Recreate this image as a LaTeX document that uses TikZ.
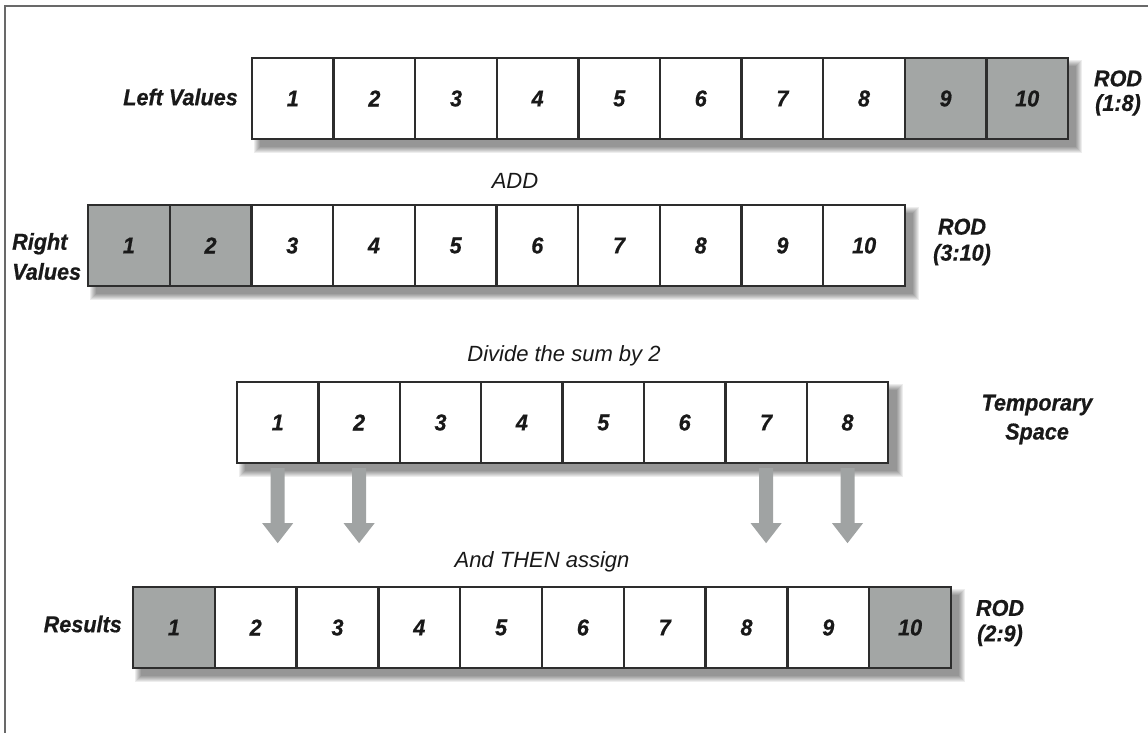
\documentclass[tikz,border=0pt]{standalone}
\usepackage{fontspec}
\setmainfont{Liberation Sans}
\newfontfamily\labfont[FakeStretch=0.94,FakeBold=0.6]{Liberation Sans}
\usetikzlibrary{calc}
\definecolor{cellgray}{RGB}{163,166,165}
\definecolor{arrowgray}{RGB}{160,163,163}
\definecolor{linegray}{RGB}{45,45,45}
\definecolor{txt}{RGB}{25,25,25}
\definecolor{framegray}{RGB}{105,105,105}
\newcommand\rowshadow[1]{%
  \foreach \r in {0,...,6}{%
    \fill[black, opacity=0.07] ($(#1.north west)+({8-\r},{-8+\r})$) rectangle ($(#1.south east)+({8+\r},{-8-\r})$);}}
\newcommand\downblock[1]{%
  \fill[arrowgray] ($(#1.south)+(-7,-4)$) -- ++(14,0) -- ++(0,-55) -- ++(8.5,0) -- ++(-15.5,-20) -- ++(-15.5,20) -- ++(8.5,0) -- cycle;}
\begin{document}
\begin{tikzpicture}[x=1pt,y=1pt,
  cell/.style={draw=linegray, line width=2.3pt, fill=white, minimum width=81.6pt, minimum height=81pt, inner sep=0pt, font=\labfont\bfseries\itshape\fontsize{23}{26}\selectfont, text=txt},
  graycell/.style={cell, fill=cellgray},
  rowspan/.style={minimum height=81pt, inner sep=0pt, anchor=north west},
  blabel/.style={font=\labfont\bfseries\itshape\fontsize{23}{#1}\selectfont, text=txt, inner sep=0pt, align=center},
  blabel/.default=26,
  ilabel/.style={font=\itshape\fontsize{22}{26}\selectfont, text=txt, inner sep=0pt}
]
\useasboundingbox (0,0) rectangle (1148,-733);
\fill[white] (0,0) rectangle (1148,-733);
\draw[framegray, line width=1.6pt] (5,-745) -- (5,-6) -- (1160,-6);

% row frames (for shadows)
\node[rowspan, minimum width=816pt] (R1) at (252,-58) {};
\node[rowspan, minimum width=817pt] (R2) at (88,-205) {};
\node[rowspan, minimum width=651.2pt] (R3) at (237,-382) {};
\node[rowspan, minimum width=818pt] (R4) at (133,-587) {};
\rowshadow{R1}
\rowshadow{R2}
\rowshadow{R3}
\rowshadow{R4}

% Left values
\foreach \i in {1,...,8} \node[cell] (L\i) at ({252+81.6*\i-40.8},-98.5) {\i};
\foreach \i in {9,10} \node[graycell] (L\i) at ({252+81.6*\i-40.8},-98.5) {\i};
% Right values
\foreach \i in {1,2} \node[graycell, minimum width=81.7pt] (V\i) at ({88+81.7*\i-40.85},-245.5) {\i};
\foreach \i in {3,...,10} \node[cell, minimum width=81.7pt] (V\i) at ({88+81.7*\i-40.85},-245.5) {\i};
% Temporary space
\foreach \i in {1,...,8} \node[cell, minimum width=81.4pt] (T\i) at ({237+81.4*\i-40.7},-422.5) {\i};
% Results
\node[graycell, minimum width=81.8pt] (S1) at ({133+40.9},-627.5) {1};
\foreach \i in {2,...,9} \node[cell, minimum width=81.8pt] (S\i) at ({133+81.8*\i-40.9},-627.5) {\i};
\node[graycell, minimum width=81.8pt] (S10) at ({133+818-40.9},-627.5) {10};

% arrows
\downblock{T1}
\downblock{T2}
\downblock{T7}
\downblock{T8}

% labels
\node[blabel, anchor=east] (lv) at (238,-97) {Left Values};
\node[blabel=30, align=left, anchor=west] (rv) at (12,-256.5) {Right\\Values};
\node[blabel=24.5] (rod1) at (1118,-93) {ROD\\(1:8)};
\node[blabel=26] (rod2) at (962,-242) {ROD\\(3:10)};
\node[blabel=29] (tmp) at (1037,-419.5) {Temporary\\Space};
\node[blabel, anchor=east] (res) at (122,-624) {Results};
\node[blabel=25.5] (rod3) at (1000,-623) {ROD\\(2:9)};
\node[ilabel, anchor=base] (add) at (515,-188) {ADD};
\node[ilabel, anchor=base] (div) at (564,-361) {Divide the sum by 2};
\node[ilabel, anchor=base] (then) at (542,-567) {And THEN assign};
\end{tikzpicture}
\end{document}
